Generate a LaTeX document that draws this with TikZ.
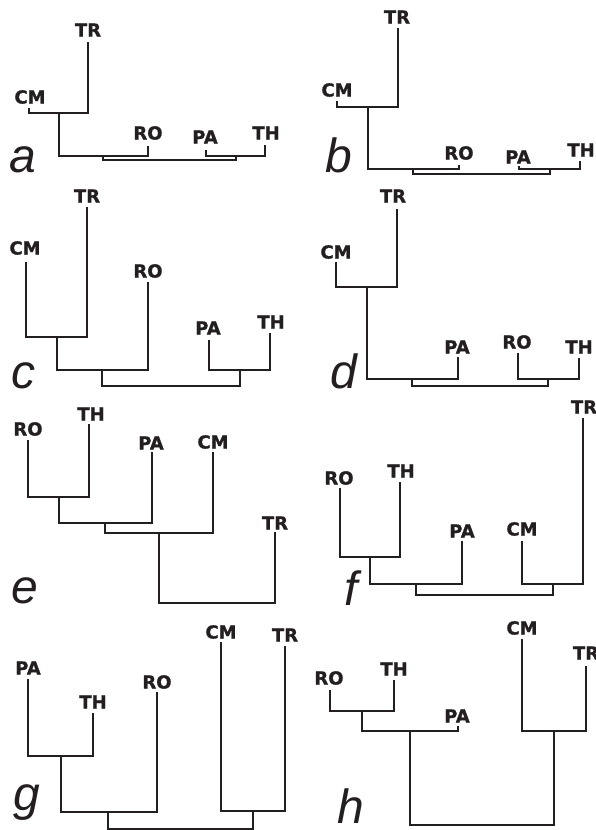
\documentclass[tikz,border=0pt]{standalone}
\usepackage{fontspec}
\setmainfont{DejaVu Sans}
\newfontfamily\lblfont[FakeBold=1]{DejaVu Sans Bold}
\newfontfamily\letfont{Liberation Sans}
\definecolor{ink}{HTML}{231F20}
\newcommand{\tbr}[3]{\draw[br] (#1) |- (#2) -| (#3);}
\begin{document}
\begin{tikzpicture}[x=1pt,y=-1pt,
  lbl/.style={inner sep=0pt,text=ink,font=\lblfont\fontsize{18}{18}\selectfont},
  plet/.style={inner sep=0pt,anchor=base,text=ink,font=\letfont\fontsize{48}{48}\selectfont\itshape},
  br/.style={draw=ink,line width=1.5pt,line cap=rect}]
\useasboundingbox (0,0) rectangle (596,830);
% ---------- a ----------
\node[lbl] (aTR) at (88,30) {TR};
\node[lbl] (aCM) at (30,97) {CM};
\node[lbl] (aRO) at (148,133) {RO};
\node[lbl] (aPA) at (205,137) {PA};
\node[lbl] (aTH) at (266,133) {TH};
\node[plet] (aL) at (23,172) {a};
\coordinate (aTRt) at (88,43);
\coordinate (aCMt) at (29,109);
\coordinate (aROt) at (148,147);
\coordinate (aPAt) at (206,151);
\coordinate (aTHt) at (265,146);
\coordinate (aJ1) at (59,113);
\coordinate (aJ2) at (103,156);
\coordinate (aJ3) at (236,156);
\coordinate (aR) at (170,160);
\tbr{aCMt}{aJ1}{aTRt}
\tbr{aJ1}{aJ2}{aROt}
\tbr{aPAt}{aJ3}{aTHt}
\tbr{aJ2}{aR}{aJ3}
% ---------- b ----------
\node[lbl] (bTR) at (397,17) {TR};
\node[lbl] (bCM) at (337,90) {CM};
\node[lbl] (bRO) at (459,153) {RO};
\node[lbl] (bPA) at (518,157) {PA};
\node[lbl] (bTH) at (581,150) {TH};
\node[plet] (bL) at (339,172) {b};
\coordinate (bTRt) at (398,29);
\coordinate (bCMt) at (337,102);
\coordinate (bROt) at (459,166);
\coordinate (bPAt) at (519,167);
\coordinate (bTHt) at (580,162);
\coordinate (bJ1) at (368,107);
\coordinate (bJ2) at (413,169);
\coordinate (bJ3) at (550,169);
\coordinate (bR) at (480,174);
\tbr{bCMt}{bJ1}{bTRt}
\tbr{bJ1}{bJ2}{bROt}
\tbr{bPAt}{bJ3}{bTHt}
\tbr{bJ2}{bR}{bJ3}
% ---------- c ----------
\node[lbl] (cTR) at (87,196) {TR};
\node[lbl] (cCM) at (25,248) {CM};
\node[lbl] (cRO) at (148,271) {RO};
\node[lbl] (cPA) at (208,328) {PA};
\node[lbl] (cTH) at (271,322) {TH};
\node[plet] (cL) at (23,388) {c};
\coordinate (cTRt) at (87,208);
\coordinate (cCMt) at (26,263);
\coordinate (cROt) at (148,283);
\coordinate (cPAt) at (209,341);
\coordinate (cTHt) at (270,334);
\coordinate (cJ1) at (57,337);
\coordinate (cJ2) at (102,370);
\coordinate (cJ3) at (240,370);
\coordinate (cR) at (170,386);
\tbr{cCMt}{cJ1}{cTRt}
\tbr{cJ1}{cJ2}{cROt}
\tbr{cPAt}{cJ3}{cTHt}
\tbr{cJ2}{cR}{cJ3}
% ---------- d ----------
\node[lbl] (dTR) at (393,196) {TR};
\node[lbl] (dCM) at (336,252) {CM};
\node[lbl] (dPA) at (457,347) {PA};
\node[lbl] (dRO) at (517,342) {RO};
\node[lbl] (dTH) at (579,347) {TH};
\node[plet] (dL) at (344,388) {d};
\coordinate (dTRt) at (397,210);
\coordinate (dCMt) at (336,263);
\coordinate (dPAt) at (458,358);
\coordinate (dROt) at (518,354);
\coordinate (dTHt) at (579,359);
\coordinate (dJ1) at (367,287);
\coordinate (dJ2) at (412,379);
\coordinate (dJ3) at (548,379);
\coordinate (dR) at (480,386);
\tbr{dCMt}{dJ1}{dTRt}
\tbr{dJ1}{dJ2}{dPAt}
\tbr{dROt}{dJ3}{dTHt}
\tbr{dJ2}{dR}{dJ3}
% ---------- e ----------
\node[lbl] (eRO) at (28,429) {RO};
\node[lbl] (eTH) at (91,414) {TH};
\node[lbl] (ePA) at (151,443) {PA};
\node[lbl] (eCM) at (213,442) {CM};
\node[lbl] (eTR) at (275,523) {TR};
\node[plet] (eL) at (25,603) {e};
\coordinate (eROt) at (28,441);
\coordinate (eTHt) at (89,425);
\coordinate (ePAt) at (152,453);
\coordinate (eCMt) at (213,453);
\coordinate (eTRt) at (275,533);
\coordinate (eJ1) at (59,497);
\coordinate (eJ2) at (105,523);
\coordinate (eJ3) at (159,533);
\coordinate (eR) at (217,603);
\tbr{eROt}{eJ1}{eTHt}
\tbr{eJ1}{eJ2}{ePAt}
\tbr{eJ2}{eJ3}{eCMt}
\tbr{eJ3}{eR}{eTRt}
% ---------- f ----------
\node[lbl] (fTR) at (584,407) {TR};
\node[lbl] (fRO) at (339,478) {RO};
\node[lbl] (fTH) at (401,471) {TH};
\node[lbl] (fPA) at (462,531) {PA};
\node[lbl] (fCM) at (522,529) {CM};
\node[plet] (fL) at (351,605) {f};
\coordinate (fTRt) at (583,419);
\coordinate (fROt) at (340,489);
\coordinate (fTHt) at (400,483);
\coordinate (fPAt) at (462,542);
\coordinate (fCMt) at (522,542);
\coordinate (fJ1) at (370,557);
\coordinate (fJ2) at (416,584);
\coordinate (fJ3) at (553,584);
\coordinate (fR) at (485,595);
\tbr{fROt}{fJ1}{fTHt}
\tbr{fJ1}{fJ2}{fPAt}
\tbr{fCMt}{fJ3}{fTRt}
\tbr{fJ2}{fR}{fJ3}
% ---------- g ----------
\node[lbl] (gPA) at (28,668) {PA};
\node[lbl] (gTH) at (93,702) {TH};
\node[lbl] (gRO) at (157,682) {RO};
\node[lbl] (gCM) at (221,632) {CM};
\node[lbl] (gTR) at (285,635) {TR};
\node[plet] (gL) at (27,810) {g};
\coordinate (gPAt) at (28,680);
\coordinate (gTHt) at (93,714);
\coordinate (gROt) at (157,693);
\coordinate (gCMt) at (221,643);
\coordinate (gTRt) at (285,647);
\coordinate (gJ1) at (61,756);
\coordinate (gJ2) at (108,812);
\coordinate (gJ3) at (253,811);
\coordinate (gR) at (180,829);
\tbr{gPAt}{gJ1}{gTHt}
\tbr{gJ1}{gJ2}{gROt}
\tbr{gCMt}{gJ3}{gTRt}
\tbr{gJ2}{gR}{gJ3}
% ---------- h ----------
\node[lbl] (hRO) at (329,678) {RO};
\node[lbl] (hTH) at (394,669) {TH};
\node[lbl] (hPA) at (457,716) {PA};
\node[lbl] (hCM) at (522,628) {CM};
\node[lbl] (hTR) at (586,653) {TR};
\node[plet] (hL) at (351,823) {h};
\coordinate (hROt) at (330,691);
\coordinate (hTHt) at (394,681);
\coordinate (hPAt) at (458,727);
\coordinate (hCMt) at (522,640);
\coordinate (hTRt) at (586,667);
\coordinate (hJ1) at (362,711);
\coordinate (hJ2) at (410,731);
\coordinate (hJ3) at (554,731);
\coordinate (hR) at (480,825);
\tbr{hROt}{hJ1}{hTHt}
\tbr{hJ1}{hJ2}{hPAt}
\tbr{hCMt}{hJ3}{hTRt}
\tbr{hJ2}{hR}{hJ3}
\end{tikzpicture}
\end{document}
